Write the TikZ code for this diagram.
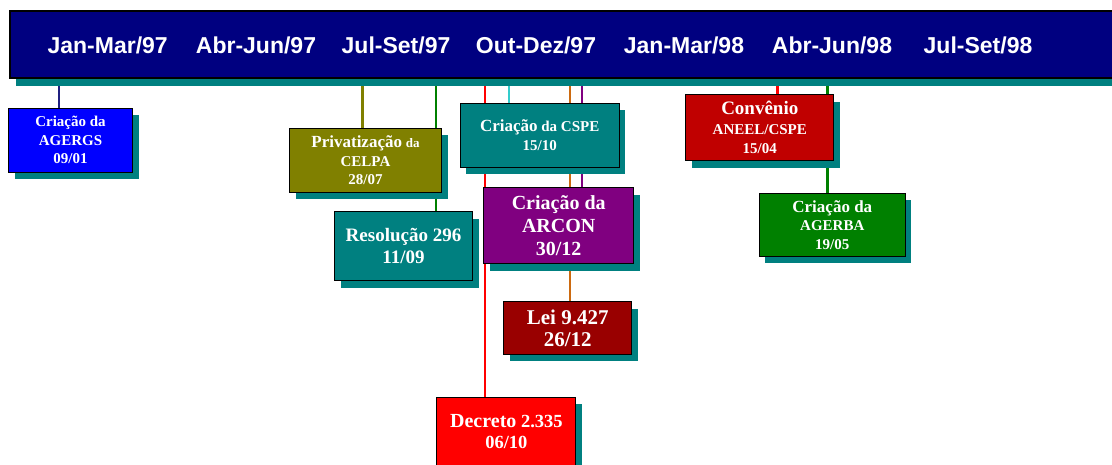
\documentclass[tikz,border=0pt]{standalone}
\usepackage{fontspec}
\setmainfont{Liberation Serif}
\newfontfamily\faixafont{Liberation Sans}
\usetikzlibrary{shadows, backgrounds}
\definecolor{azulmarinho}{HTML}{000080}
\definecolor{sombra}{HTML}{008080}
\definecolor{azulforte}{HTML}{0000FF}
\definecolor{oliva}{HTML}{808000}
\definecolor{petroleo}{HTML}{008080}
\definecolor{roxo}{HTML}{800080}
\definecolor{vinho}{HTML}{990000}
\definecolor{vermelho}{HTML}{FF0000}
\definecolor{rubro}{HTML}{C00000}
\definecolor{verde}{HTML}{008000}
\definecolor{linhaazul}{HTML}{202080}
\definecolor{ciano}{HTML}{33CCCC}
\definecolor{laranja}{HTML}{CC6A10}
\newcommand{\tam}[2]{\fontsize{#1}{#2}\selectfont}

\begin{document}
\begin{tikzpicture}[x=1pt, y=-1pt,
            evento/.style={rectangle, draw=black, line width=1pt, text=white, align=center, inner sep=0pt,
                drop shadow={shadow xshift=6pt, shadow yshift=-7pt, fill=sombra, opacity=1}},
            periodo/.style={text=white, inner sep=0pt, font=\faixafont\bfseries\tam{23}{23}},
            marco/.style={line width=2.5pt}]

            \useasboundingbox (0,0) rectangle (1112,465);

            % faixa dos trimestres
            \node[rectangle, draw=black, line width=2pt, fill=azulmarinho, minimum width=1116pt, minimum height=67pt, inner sep=0pt,
                drop shadow={shadow xshift=5.5pt, shadow yshift=-8pt, fill=sombra, opacity=1}] (faixa) at (568,44.1) {};

            \node[periodo] (p1) at (107.7,45.5) {Jan-Mar/97};
            \node[periodo] (p2) at (256,45.5) {Abr-Jun/97};
            \node[periodo] (p3) at (396,45.5) {Jul-Set/97};
            \node[periodo] (p4) at (536,45.5) {Out-Dez/97};
            \node[periodo] (p5) at (684,45.5) {Jan-Mar/98};
            \node[periodo] (p6) at (832,45.5) {Abr-Jun/98};
            \node[periodo] (p7) at (978,45.5) {Jul-Set/98};

            % eventos
            \node[evento, fill=azulforte, minimum width=124pt, minimum height=64pt, font=\bfseries\tam{15}{18.5}] (agergs) at (70.5,140.3) {Criação da\\AGERGS\\09/01};
            \node[evento, fill=oliva, minimum width=152pt, minimum height=64pt, font=\bfseries\tam{15}{18.7}] (celpa) at (365.5,160.2) {{\tam{17}{18.7}Privatização} {\tam{13}{18.7}da}\\CELPA\\28/07};
            \node[evento, fill=petroleo, minimum width=138pt, minimum height=69pt, font=\bfseries\tam{19}{22.3}] (res) at (403.5,246.3) {Resolução 296\\11/09};
            \node[evento, fill=petroleo, minimum width=159pt, minimum height=64pt, font=\bfseries\tam{15}{19}] (cspe) at (539.7,135.3) {{\tam{17}{19}Criação} da CSPE\\15/10};
            \node[evento, fill=roxo, minimum width=150pt, minimum height=76pt, font=\bfseries\tam{20}{22.7}] (arcon) at (558.7,225.8) {Criação da\\ARCON\\30/12};
            \node[evento, fill=vinho, minimum width=128pt, minimum height=52pt, font=\bfseries\tam{21}{21.7}] (lei) at (567.7,328) {Lei 9.427\\26/12};
            \node[evento, fill=vermelho, minimum width=139pt, minimum height=69pt, font=\bfseries\tam{18.5}{21.3}] (dec) at (506.4,431.5) {{\tam{20}{21.3}Decreto} 2.335\\06/10};
            \node[evento, fill=rubro, minimum width=148pt, minimum height=66pt, font=\bfseries\tam{15}{19.5}] (conv) at (759.8,127.7) {{\tam{19}{19.5}Convênio}\\ANEEL/CSPE\\15/04};
            \node[evento, fill=verde, minimum width=146pt, minimum height=63pt, font=\bfseries\tam{15}{18.3}] (agerba) at (832.3,225) {{\tam{17}{18.3}Criação da}\\AGERBA\\19/05};

            % marcos ligando a faixa aos eventos
            \coordinate (m1) at (59,78);
            \coordinate (m2) at (362.5,78);
            \coordinate (m3) at (436,78);
            \coordinate (m4) at (485,78);
            \coordinate (m5) at (509,78);
            \coordinate (m6) at (570,78);
            \coordinate (m7) at (582,78);
            \coordinate (m8) at (777.6,78);
            \coordinate (m9) at (827.3,78);

            \begin{scope}[on background layer]
                \draw[marco, linhaazul] (m1) -- (m1 |- agergs.north);
                \draw[marco, oliva] (m2) -- (m2 |- celpa.north);
                \draw[marco, verde] (m3) -- (m3 |- res.north);
                \draw[marco, vermelho] (m4) -- (m4 |- dec.north);
                \draw[marco, ciano] (m5) -- (m5 |- cspe.north);
                \draw[marco, laranja] (m6) -- (m6 |- lei.north);
                \draw[marco, roxo] (m7) -- (m7 |- arcon.north);
                \draw[marco, vermelho] (m8) -- (m8 |- conv.north);
                \draw[marco, verde] (m9) -- (m9 |- agerba.north);
            \end{scope}
        \end{tikzpicture}
\end{document}
